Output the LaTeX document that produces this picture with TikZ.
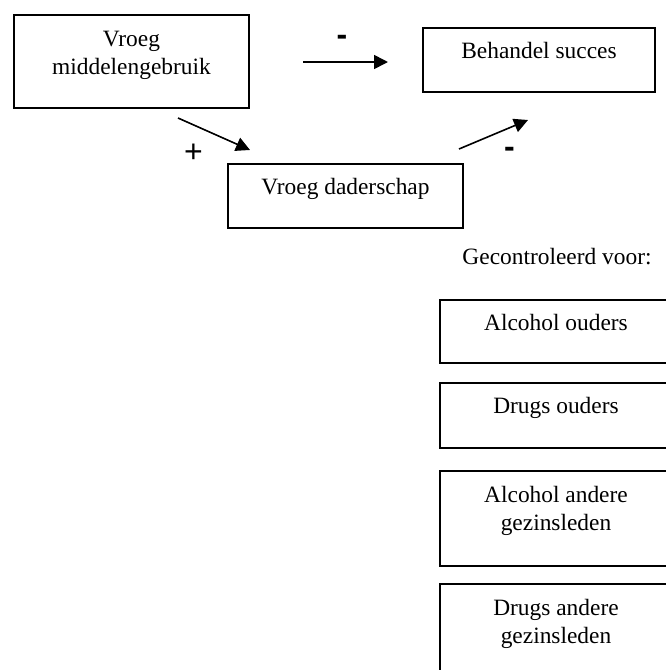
\documentclass[tikz,border=0pt]{standalone}
\usepackage{fontspec}
\setmainfont{Liberation Serif}
\newfontfamily\signfont{Liberation Sans}
\usetikzlibrary{arrows.meta,positioning}

\begin{document}
\begin{tikzpicture}[x=0.5pt, y=-0.5pt,
  box/.style={draw, line width=1pt, inner sep=0pt},
  lbl/.style={align=center, inner sep=0pt, font=\fontsize{11.7}{13.8}\selectfont},
  sign/.style={inner sep=0pt, font=\signfont\fontsize{16}{16}\selectfont},
  neg/.style={inner sep=0pt, font=\signfont\bfseries\fontsize{16}{16}\selectfont},
  arr/.style={-{Triangle[length=7pt,width=7pt]}, line width=0.8pt}]
\useasboundingbox (0,0) rectangle (665,670);

% model
\node[box, minimum width=117.5pt, minimum height=46.5pt] (mg) at (131.5,61.5) {};
\node[box, minimum width=116pt, minimum height=32pt] (bs) at (539,60) {};
\node[box, minimum width=117.5pt, minimum height=32pt] (vd) at (345.5,196) {};
\node[lbl, below=8.5pt of mg.north] (mgtxt) {Vroeg\\middelengebruik};
\node[lbl, below=7.5pt of bs.north] (bstxt) {Behandel succes};
\node[lbl, below=7.5pt of vd.north] (vdtxt) {Vroeg daderschap};

\coordinate (h1) at (303,62);
\coordinate (h2) at (388,62);
\coordinate (d1) at (178,118);
\coordinate (d2) at (250,150);
\coordinate (e1) at (459,149);
\coordinate (e2) at (528,120);
\draw[arr] (h1) -- (h2);
\draw[arr] (d1) -- (d2);
\draw[arr] (e1) -- (e2);
\node[neg] (minA) at (342,40) {-};
\node[sign] (plus) at (193.5,153.5) {+};
\node[neg] (minB) at (509.5,152.5) {-};

% controls
\node[lbl, anchor=base] (ctrl) at (557,264) {Gecontroleerd voor:};
\node[box, minimum width=116pt, minimum height=31.5pt] (ao) at (556,331.5) {};
\node[box, minimum width=116pt, minimum height=32.5pt] (do) at (556,415.5) {};
\node[box, minimum width=116pt, minimum height=47.5pt] (aa) at (556,518.5) {};
\node[box, minimum width=116pt, minimum height=47.5pt] (da) at (556,631.5) {};
\node[lbl, below=7.5pt of ao.north] (aotxt) {Alcohol ouders};
\node[lbl, below=7.5pt of do.north] (dotxt) {Drugs ouders};
\node[lbl, below=8pt of aa.north] (aatxt) {Alcohol andere\\gezinsleden};
\node[lbl, below=8pt of da.north] (datxt) {Drugs andere\\gezinsleden};
\end{tikzpicture}
\end{document}
